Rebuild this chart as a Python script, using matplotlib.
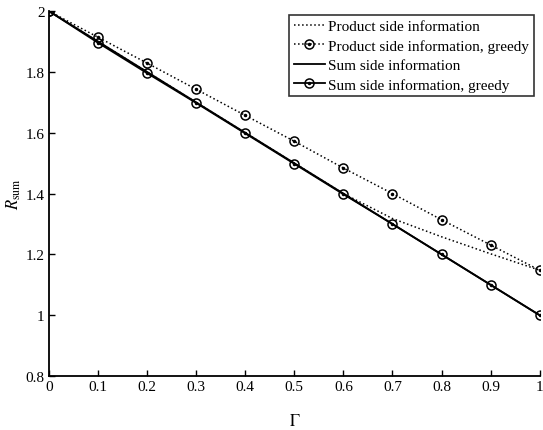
import numpy as np
import matplotlib.pyplot as plt

plt.rcParams['font.family'] = 'Liberation Serif'
plt.rcParams['mathtext.fontset'] = 'stix'

# data
gamma = [0, 0.1, 0.2, 0.3, 0.4, 0.5, 0.6, 0.7, 0.8, 0.9, 1.0]
product = [2.0, 1.9, 1.8, 1.7, 1.6, 1.5, 1.4, 1.318, 1.258, 1.202, 1.148]
product_greedy = [2.0, 1.914, 1.829, 1.743, 1.657, 1.572, 1.484, 1.400, 1.314, 1.231, 1.148]
sum_info = [2.0, 1.9, 1.8, 1.7, 1.6, 1.5, 1.4, 1.3, 1.2, 1.1, 1.0]
sum_greedy = [2.0, 1.896, 1.796, 1.698, 1.598, 1.498, 1.398, 1.300, 1.200, 1.100, 1.000]

xticks = [0, 0.1, 0.2, 0.3, 0.4, 0.5, 0.6, 0.7, 0.8, 0.9, 1]
xticklabels = ['0', '0.1', '0.2', '0.3', '0.4', '0.5', '0.6', '0.7', '0.8', '0.9', '1']
yticks = [0.8, 1.0, 1.2, 1.4, 1.6, 1.8, 2.0]
yticklabels = ['0.8', '1', '1.2', '1.4', '1.6', '1.8', '2']

fig = plt.figure(figsize=(5.43, 4.31), dpi=100)
ax = fig.add_axes([0.09, 0.125, 0.904, 0.847])

l1, = ax.plot(gamma, product, color='black', ls=':', lw=1.1)
l2, = ax.plot(gamma, product_greedy, color='black', ls=':', lw=1.1,
              marker='o', ms=6.5, mfc='none', mec='black', mew=1.1)
d2, = ax.plot(gamma, product_greedy, ls='none', marker='o', ms=1.5, color='black')
l3, = ax.plot(gamma, sum_info, color='black', ls='-', lw=1.3)
l4, = ax.plot(gamma, sum_greedy, color='black', ls='-', lw=1.3,
              marker='o', ms=6.5, mfc='none', mec='black', mew=1.1)
d4, = ax.plot(gamma, sum_greedy, ls='none', marker='o', ms=1.5, color='black')

ax.set_xlim(0, 1)
ax.set_ylim(0.8, 2)
ax.set_xticks(xticks)
ax.set_xticklabels(xticklabels)
ax.set_yticks(yticks)
ax.set_yticklabels(yticklabels)
ax.tick_params(direction='in', labelsize=11, length=4, width=1, pad=3)
ax.spines['top'].set_visible(False)
ax.spines['right'].set_visible(False)
ax.spines['left'].set_linewidth(1.3)
ax.spines['bottom'].set_linewidth(1.3)

ax.set_xlabel(r'$\Gamma$', fontsize=12, labelpad=14)
ax.set_ylabel(r'$R_{\rm sum}$', fontsize=12, labelpad=2)

leg = ax.legend([l1, (l2, d2), l3, (l4, d4)],
                ['Product side information', 'Product side information, greedy',
                 'Sum side information', 'Sum side information, greedy'],
                loc='upper right', bbox_to_anchor=(0.988, 0.99), fontsize=11,
                frameon=True, fancybox=False, edgecolor='black',
                handlelength=2.0, handletextpad=0.25, borderpad=0.3,
                labelspacing=0.38, borderaxespad=0)
leg.get_frame().set_linewidth(1.2)

fig.savefig('out.png', dpi=100)
